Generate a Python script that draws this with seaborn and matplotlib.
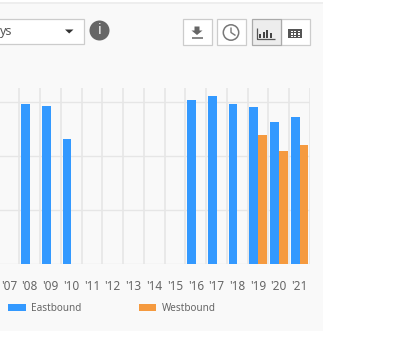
import numpy as np
import pandas as pd
import matplotlib
matplotlib.use("Agg")
import matplotlib.pyplot as plt
from matplotlib.patches import Rectangle, Circle, Polygon
from matplotlib.lines import Line2D
import seaborn as sns

years = ["'07", "'08", "'09", "'10", "'11", "'12", "'13", "'14", "'15", "'16", "'17", "'18", "'19", "'20", "'21"]
eastbound = [np.nan, 297, 293, 232, np.nan, np.nan, np.nan, np.nan, np.nan, 304, 311, 296, 291, 263, 272]
westbound = [np.nan] * 12 + [239, 210, 220]
series_names = ["Eastbound", "Westbound"]
series_colors = ["#3399FF", "#F59A3F"]
y_ticks = [0, 100, 200, 300]

W, H = 409, 345
sns.set_theme(style="white")
plt.rcParams["font.family"] = ["Noto Sans", "DejaVu Sans"]

fig = plt.figure(figsize=(W / 100, H / 100), dpi=100, facecolor="white")

# Toolbar and panel layer, addressed in pixels from the top left
chrome = fig.add_axes([0, 0, 1, 1], zorder=0)
chrome.set_xlim(0, W)
chrome.set_ylim(H, 0)
chrome.axis("off")


def box(x0, y0, x1, y1, fc, ec="none", lw=0.0):
    chrome.add_patch(Rectangle((x0, y0), x1 - x0, y1 - y0, facecolor=fc, edgecolor=ec, linewidth=lw))


def stroke(xs, ys, color="#666666", lw=1.0):
    chrome.add_line(Line2D(xs, ys, color=color, linewidth=lw, solid_capstyle="butt"))


box(0, 2, 323, 331, "#F9F9F9")
box(0, 2, 323, 3.5, "#EEEEEE")

# Period selector
box(-3, 18.5, 83.5, 43.5, "white", "#CCCCCC", 0.9)
chrome.text(0, 31.5, "ys", fontsize=9, color="#555555", va="center", ha="left")
chrome.add_patch(Polygon([(65, 29.5), (73.5, 29.5), (69.2, 33.5)], facecolor="#333333", edgecolor="none"))

# Info badge
chrome.add_patch(Circle((99.5, 30.5), 10, facecolor="#666666", edgecolor="none"))
chrome.text(99.5, 30.5, "i", fontsize=10, fontweight="bold", color="white", ha="center", va="center")

# Toolbar buttons
box(182.5, 18.5, 211.5, 45, "white", "#CCCCCC", 0.9)
box(216.5, 18.5, 246, 45, "white", "#CCCCCC", 0.9)
box(281, 18.5, 309.5, 45, "white", "#CCCCCC", 0.9)
box(251.5, 18.5, 281, 45, "#EDEDED", "#AAAAAA", 0.9)

# Download icon
chrome.add_patch(Polygon(
    [(194.5, 26.5), (199.5, 26.5), (199.5, 30.5), (202.5, 30.5), (197, 35), (191.5, 30.5), (194.5, 30.5)],
    facecolor="#666666", edgecolor="none"))
stroke([191.5, 202.5], [37.5, 37.5], lw=1.1)

# History icon
chrome.add_patch(Circle((231, 32.5), 7.7, facecolor="none", edgecolor="#777777", linewidth=1.1))
stroke([231, 231, 235.5], [27.5, 32.5, 35.5], color="#777777", lw=1.0)

# Bar chart icon
stroke([257, 257, 274.5], [28, 38.5, 38.5], color="#555555", lw=0.9)
for bx, by in zip([260, 263.5, 267, 270.5], [34, 32, 30, 32.5]):
    box(bx - 1.0, by, bx + 1.0, 37.5, "#444444")

# Table icon
box(288, 28.5, 302, 38, "#555555")
for tx in [291.5, 295, 298.5]:
    for ty in [30.8, 33.3, 35.8]:
        box(tx - 0.8, ty - 0.2, tx + 1.2, ty + 1.4, "white")

# Chart area
left, right, top, bottom = -1.3, 310.0, 87.5, 264.3
ax = fig.add_axes([left / W, 1 - bottom / H, (right - left) / W, (bottom - top) / H], zorder=1)
ax.patch.set_alpha(0)

frame = pd.DataFrame({
    "year": years * 2,
    "value": eastbound + westbound,
    "direction": [series_names[0]] * len(years) + [series_names[1]] * len(years),
})
sns.barplot(data=frame, x="year", y="value", hue="direction", order=years, hue_order=series_names,
            palette=series_colors, width=0.84, gap=0, saturation=1, legend=False, ax=ax, zorder=3,
            edgecolor="none", linewidth=0)

ax.set_xlim(-0.5, len(years) - 0.5)
ax.set_ylim(0, 327)
ax.set_xlabel("")
ax.set_ylabel("")
ax.set_yticks(y_ticks)
ax.set_yticklabels([])
ax.set_xticks(np.arange(len(years)))
ax.set_xticklabels(years)
ax.set_xticks(np.arange(len(years) + 1) - 0.5, minor=True)
for spine in ax.spines.values():
    spine.set_visible(False)

grid_color = "#E6E6E6"
ax.grid(False)
ax.grid(True, axis="y", which="major", color=grid_color, linewidth=1.0, zorder=1)
ax.grid(True, axis="x", which="minor", color=grid_color, linewidth=1.2, zorder=1)
ax.set_axisbelow(True)
ax.tick_params(axis="x", which="major", length=0, pad=11, labelsize=8.5, labelcolor="#666666")
ax.tick_params(axis="x", which="minor", length=6.8, width=1.2, color=grid_color)
ax.tick_params(axis="y", length=0)

handles = [Rectangle((0, 0), 1, 1, facecolor=c, edgecolor="none") for c in series_colors]
fig.legend(handles, series_names, loc="lower left", bbox_to_anchor=(8 / W, 1 - 314 / H), ncol=2,
           frameon=False, fontsize=7.2, labelcolor="#666666", borderpad=0, borderaxespad=0,
           handlelength=1.75, handleheight=0.62, handletextpad=0.55, columnspacing=5.75)

fig.savefig("out.png", dpi=100, facecolor="white")
